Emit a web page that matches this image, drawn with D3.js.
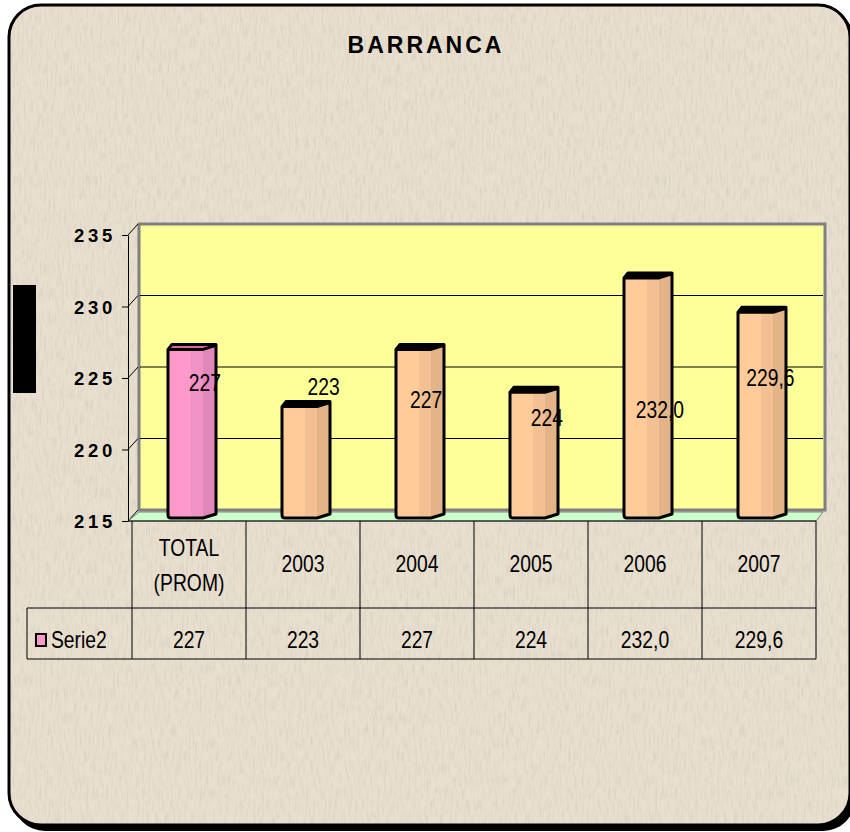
<!DOCTYPE html>
<html>
<head>
<meta charset="utf-8">
<script src="https://cdn.jsdelivr.net/npm/d3@7"></script>
<style>
  body { margin: 0; background: #ffffff; }
  svg text { font-family: "Liberation Sans", Arial, sans-serif; }
</style>
</head>
<body>
<div id="chart"></div>
<script>
// chart data
const categories = ["TOTAL (PROM)", "2003", "2004", "2005", "2006", "2007"];
const values = [227, 223, 227, 224, 232.0, 229.6];
const valueLabels = ["227", "223", "227", "224", "232,0", "229,6"];
const seriesName = "Serie2";
const yTicks = [215, 220, 225, 230, 235];
// where Excel dropped each data label (value units / share of band)
const labelY = [224.65, 224.4, 223.45, 222.2, 222.75, 225.0];
const labelX = [0.64, 0.68, 0.58, 0.64, 0.63, 0.6];

const W = 850, H = 832;
const narrow = 0.84; // fake Arial Narrow

const svg = d3.select("#chart").append("svg")
    .attr("width", W)
    .attr("height", H);

// condensed text helper
function narrowText(parent, x, y, str, size, anchor) {
    return parent.append("text")
        .attr("transform", `translate(${x},${y}) scale(${narrow},1)`)
        .attr("text-anchor", anchor || "middle")
        .style("font-size", size + "px")
        .text(str);
}

const defs = svg.append("defs");
let f = defs.append("filter").attr("id", "paper").attr("x", 0).attr("y", 0).attr("width", 1).attr("height", 1);
f.append("feTurbulence").attr("type", "fractalNoise").attr("baseFrequency", "0.45 0.08").attr("numOctaves", 2).attr("seed", 4).attr("result", "n");
f.append("feColorMatrix").attr("in", "n").attr("type", "matrix")
    .attr("values", "0 0 0 0 0.62  0 0 0 0 0.58  0 0 0 0 0.50  0 0 0 -1.4 0.78").attr("result", "c");
f.append("feComposite").attr("in", "c").attr("in2", "SourceGraphic").attr("operator", "in").attr("result", "t");
f.append("feMerge").call(m => { m.append("feMergeNode").attr("in", "SourceGraphic"); m.append("feMergeNode").attr("in", "t"); });

// outer frame + shadow
svg.append("rect").attr("x", 13).attr("y", 10).attr("width", 842).attr("height", 821)
    .attr("rx", 32).attr("fill", "#000");
svg.append("rect").attr("x", 9).attr("y", 5).attr("width", 841).attr("height", 820)
    .attr("rx", 32).attr("fill", "#e8dfcf").attr("filter", "url(#paper)");
svg.append("rect").attr("x", 9).attr("y", 5).attr("width", 841).attr("height", 820)
    .attr("rx", 32).attr("fill", "none").attr("stroke", "#000").attr("stroke-width", 3);

// title
svg.append("text")
    .attr("x", 426).attr("y", 53)
    .attr("text-anchor", "middle")
    .style("font-weight", "bold").style("font-size", "23px").style("letter-spacing", "3px")
    .text("BARRANCA");

// stray black block on the left
svg.append("rect").attr("x", 13).attr("y", 285).attr("width", 23).attr("height", 108).attr("fill", "#000");

// scales
const plotLeft = 132, plotRight = 816;
const dx = 9, dy = 11;
const y = d3.scaleLinear().domain([215, 235]).range([521, 235]);
const x = d3.scaleBand().domain(categories).range([plotLeft, plotRight]);

// back wall
const wallTop = y(235) - dy, wallBot = y(215) - dy;
svg.append("rect")
    .attr("x", plotLeft + dx - 2).attr("y", wallTop)
    .attr("width", plotRight - plotLeft + 2).attr("height", wallBot - wallTop)
    .attr("fill", "#ffff99").attr("stroke", "#808080").attr("stroke-width", 3);

// gridlines on the wall
svg.selectAll(".grid").data(yTicks.slice(1, -1)).enter().append("line")
    .attr("x1", plotLeft + dx - 1).attr("x2", plotRight + dx - 2)
    .attr("y1", d => y(d) - dy).attr("y2", d => y(d) - dy)
    .attr("stroke", "#000").attr("stroke-width", 1);

// little slanted lines from the axis ticks to the wall
svg.selectAll(".slant").data(yTicks).enter().append("line")
    .attr("x1", plotLeft - 4).attr("y1", d => y(d))
    .attr("x2", plotLeft + dx - 3).attr("y2", d => y(d) - dy)
    .attr("stroke", "#000").attr("stroke-width", 1);

// floor
svg.append("polygon")
    .attr("points", [
        [plotLeft - 4, y(215)], [plotRight, y(215)],
        [plotRight + dx - 2, y(215) - dy + 2], [plotLeft + dx - 2, y(215) - dy + 2]
    ].map(p => p.join(",")).join(" "))
    .attr("fill", "#ccffcc").attr("stroke", "#808080").attr("stroke-width", 1);

// y axis
const yAxis = d3.axisLeft(y).tickValues(yTicks).tickSize(6).tickPadding(6).tickSizeOuter(0);
const gy = svg.append("g").attr("transform", `translate(${plotLeft - 4},0)`).call(yAxis)
    .attr("font-family", null).attr("font-size", null);
gy.select(".domain").attr("stroke", "#000").attr("stroke-width", 1);
gy.selectAll(".tick line").attr("stroke", "#000");
gy.selectAll(".tick text")
    .style("font-size", "18.5px").style("font-weight", "bold").style("letter-spacing", "3.7px")
    .attr("fill", "#000").attr("dy", "0.36em");

// bars
const faces = {
    pink: ["#ff99cc", "#f092c3", "#e287b9", "#d9689f"],
    peach: ["#ffcc99", "#f2c092", "#e3b487", "#000000"]
};
const barsG = svg.append("g");
categories.forEach((c, i) => {
    const col = i === 0 ? faces.pink : faces.peach;
    const cx = x(c) + x.bandwidth() / 2;
    const x0 = cx - 21, xa = x0 + 23, xm = x0 + 35, x1 = x0 + 48;
    const yt = y(values[i]), yb = y(215) - 3;
    const g = barsG.append("g");
    g.append("rect").attr("x", x0).attr("y", yt).attr("width", xa - x0).attr("height", yb - yt).attr("fill", col[0]);
    g.append("rect").attr("x", xa).attr("y", yt).attr("width", xm - xa).attr("height", yb - yt).attr("fill", col[1]);
    g.append("polygon")
        .attr("points", [[xm, yt], [x1, yt - 4], [x1, yb - 4], [xm, yb]].map(p => p.join(",")).join(" "))
        .attr("fill", col[2]);
    g.append("polygon")
        .attr("points", [[x0, yt], [x0 + 4, yt - 5], [x1, yt - 5], [x1, yt - 4], [xm, yt]].map(p => p.join(",")).join(" "))
        .attr("fill", col[3]);
    g.append("path")
        .attr("d", `M${x0},${yt} L${x0 + 4},${yt - 5} L${x1},${yt - 5} L${x1},${yb - 4} L${xm},${yb} L${x0 + 3},${yb} Q${x0},${yb} ${x0},${yb - 3} Z M${x0},${yt} L${xm},${yt} L${x1},${yt - 4}`)
        .attr("fill", "none").attr("stroke", "#000").attr("stroke-width", 3).attr("stroke-linejoin", "round");
});

// data labels
categories.forEach((c, i) => {
    narrowText(svg, x(c) + x.bandwidth() * labelX[i], y(labelY[i]) + 8, valueLabels[i], 23);
});

// data table
const tTop = y(215), tMid = 608, tBot = 659, legLeft = 27;
const tg = svg.append("g").attr("stroke", "#000").attr("stroke-width", 1);
tg.append("line").attr("x1", plotLeft - 4).attr("x2", plotRight).attr("y1", tTop).attr("y2", tTop);
tg.append("line").attr("x1", legLeft).attr("x2", plotRight).attr("y1", tMid).attr("y2", tMid);
tg.append("line").attr("x1", legLeft).attr("x2", plotRight).attr("y1", tBot).attr("y2", tBot);
tg.append("line").attr("x1", legLeft).attr("x2", legLeft).attr("y1", tMid).attr("y2", tBot);
tg.selectAll(".vl").data(categories.concat([null])).enter().append("line")
    .attr("x1", (d, i) => plotLeft + i * x.step()).attr("x2", (d, i) => plotLeft + i * x.step())
    .attr("y1", tTop).attr("y2", tBot);

// header cells
categories.forEach((c, i) => {
    const cx = x(c) + x.bandwidth() / 2;
    const parts = c.split(" ");
    if (parts.length === 2) {
        narrowText(svg, cx, 556, parts[0], 23);
        narrowText(svg, cx, 591, parts[1], 23);
    } else {
        narrowText(svg, cx, 572, c, 23);
    }
});

// value cells
categories.forEach((c, i) => {
    narrowText(svg, x(c) + x.bandwidth() / 2, 648, valueLabels[i], 23);
});

// legend key
svg.append("rect").attr("x", 36).attr("y", 634).attr("width", 10).attr("height", 12)
    .attr("fill", "#ff99cc").attr("stroke", "#000").attr("stroke-width", 2);
narrowText(svg, 51, 648, seriesName, 23, "start");
</script>
</body>
</html>
